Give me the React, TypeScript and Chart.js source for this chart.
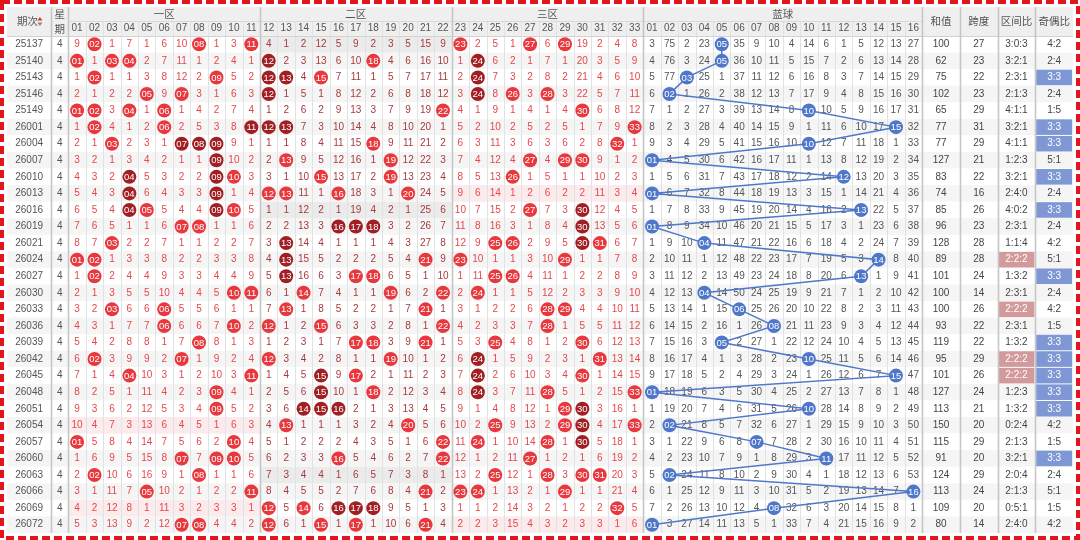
import { useEffect, useRef } from 'react';
import { Chart, registerables } from 'chart.js';

Chart.register(...registerables);

// ---------------- data ----------------
const PERIODS = ['25137', '25140', '25143', '25146', '25149', '26001', '26004', '26007', '26010', '26013',
  '26016', '26019', '26021', '26024', '26027', '26030', '26033', '26036', '26039', '26042',
  '26045', '26048', '26051', '26054', '26057', '26060', '26063', '26066', '26069', '26072'];
const WEEKDAYS = [4, 4, 4, 4, 4, 4, 4, 4, 4, 4, 4, 4, 4, 4, 4, 4, 4, 4, 4, 4, 4, 4, 4, 4, 4, 4, 4, 4, 4, 4];

const RED_DRAWS: number[][] = [
  [2, 8, 11, 23, 27, 29], [1, 3, 4, 12, 18, 24], [2, 9, 12, 13, 15, 24], [5, 7, 12, 24, 26, 28],
  [1, 2, 4, 6, 22, 30], [2, 6, 11, 12, 13, 33], [3, 7, 8, 9, 18, 32], [9, 13, 19, 27, 29, 30],
  [4, 9, 10, 15, 19, 26], [4, 9, 12, 13, 16, 20], [4, 5, 9, 10, 27, 30], [7, 8, 16, 17, 18, 30],
  [3, 13, 25, 26, 30, 31], [1, 2, 13, 21, 23, 29], [2, 13, 17, 18, 25, 26], [10, 11, 14, 19, 22, 24],
  [3, 6, 13, 21, 28, 29], [6, 10, 12, 15, 22, 28], [8, 17, 18, 21, 25, 30], [2, 7, 12, 19, 24, 31],
  [4, 11, 15, 17, 24, 30], [9, 15, 18, 24, 28, 33], [9, 14, 15, 16, 29, 30], [13, 20, 25, 29, 30, 33],
  [1, 10, 22, 24, 28, 30], [7, 9, 10, 16, 22, 27], [2, 8, 25, 28, 30, 31], [5, 11, 21, 23, 24, 29],
  [12, 14, 16, 17, 18, 32], [7, 8, 12, 15, 17, 21],
];
// balls shown in dark red
const RED_DARK_BALLS: number[][] = [
  [], [12, 24], [12, 13, 24], [12, 24], [], [11, 12, 13], [7, 8, 9], [9], [4, 9], [4, 9],
  [4, 9, 30], [16, 17, 18, 30], [13, 30], [13], [13], [], [], [], [], [24],
  [15, 24], [15, 24], [14, 15, 16, 30], [30], [30], [], [], [], [16, 17, 18], [],
];
const BLUE_DRAWS = [5, 5, 3, 2, 10, 15, 10, 1, 12, 1, 13, 1, 4, 14, 13, 4, 6, 8, 5, 10, 15, 1, 10, 2, 7, 11, 2, 16, 8, 1];

// omission counts shown in the first row (null = drawn in that row)
const RED_MISS_FIRST: (number | null)[] = [9, null, 1, 7, 1, 6, 10, null, 1, 3, null, 4, 1, 2, 12, 5, 9, 2, 3, 5, 15, 9,
  null, 2, 5, 1, null, 6, null, 19, 2, 4, 8];
const BLUE_MISS_FIRST: (number | null)[] = [3, 75, 2, 23, null, 35, 9, 10, 4, 14, 6, 1, 5, 12, 13, 27];

const SUM_VALUES = [100, 62, 75, 102, 65, 77, 77, 127, 83, 74, 85, 96, 128, 89, 101, 100, 100, 93, 119, 95,
  101, 127, 113, 150, 115, 91, 124, 113, 109, 80];
const SPAN_VALUES = [27, 23, 22, 23, 29, 31, 29, 21, 22, 16, 26, 23, 28, 28, 24, 14, 26, 22, 22, 29,
  26, 24, 21, 20, 29, 20, 29, 24, 20, 14];
const ZONE_RATIOS = ['3:0:3', '3:2:1', '2:3:1', '2:1:3', '4:1:1', '3:2:1', '4:1:1', '1:2:3', '3:2:1', '2:4:0',
  '4:0:2', '2:3:1', '1:1:4', '2:2:2', '1:3:2', '2:3:1', '2:2:2', '2:3:1', '1:3:2', '2:2:2',
  '2:2:2', '1:2:3', '1:3:2', '0:2:4', '2:1:3', '3:2:1', '2:0:4', '2:1:3', '0:5:1', '2:4:0'];
const ODD_EVEN = ['4:2', '2:4', '3:3', '2:4', '1:5', '3:3', '3:3', '5:1', '3:3', '2:4', '3:3', '2:4', '4:2', '5:1', '3:3',
  '2:4', '4:2', '1:5', '3:3', '3:3', '3:3', '3:3', '3:3', '4:2', '1:5', '3:3', '2:4', '5:1', '1:5', '4:2'];

const ZONE_LABELS = ['一区', '二区', '三区'];
const BLUE_LABEL = '蓝球';
const STAT_LABELS = ['和值', '跨度', '区间比', '奇偶比'];
const HEAD_PERIOD = '期次';
const HEAD_WEEK = ['星', '期'];

// ---------------- layout & style ----------------
const U_PERIOD = 2.54;
const U_WEEK = 0.983;
const U_STAT = 2.165;
const X_WEEK = U_PERIOD;
const X_RED = X_WEEK + U_WEEK;
const X_BLUE = X_RED + 33;
const X_STAT = X_BLUE + 16;
const X_END = X_STAT + 4 * U_STAT;
const Y_HEAD = -1.752;
const Y_SPLIT = -0.897;
const ROWS = PERIODS.length;

const FONT = '"Liberation Sans", Arial, "Noto Sans CJK SC", sans-serif';
const CJK = '"Noto Sans CJK SC", "Liberation Sans", sans-serif';
const RED_BALL = '#e8383d';
const RED_DARK = '#a11e23';
const BLUE_BALL = '#4f77c9';
const BLUE_LINE = '#5078c8';
const BALL_R = 7;

const pad = (n: number) => (n < 10 ? '0' + n : '' + n);

function buildMiss(first: (number | null)[], draws: number[][]) {
  const out: (number | null)[][] = [];
  draws.forEach((row, r) => {
    const cur: (number | null)[] = [];
    for (let c = 1; c <= first.length; c++) {
      if (row.includes(c)) cur.push(null);
      else if (r === 0) cur.push(first[c - 1]);
      else {
        const p = out[r - 1][c - 1];
        cur.push(p === null ? 1 : p + 1);
      }
    }
    out.push(cur);
  });
  return out;
}

const RED_MISS = buildMiss(RED_MISS_FIRST, RED_DRAWS);
const BLUE_MISS = buildMiss(BLUE_MISS_FIRST, BLUE_DRAWS.map((b) => [b]));

const tablePlugin = {
  id: 'lotteryTable',
  beforeDatasetsDraw(chart: any) {
    const { ctx } = chart;
    const xs = chart.scales.x;
    const ys = chart.scales.y;
    const px = (v: number) => xs.getPixelForValue(v);
    const py = (v: number) => ys.getPixelForValue(v);
    const rect = (x0: number, x1: number, y0: number, y1: number, color: string) => {
      ctx.fillStyle = color;
      ctx.fillRect(px(x0), py(y0), px(x1) - px(x0), py(y1) - py(y0));
    };
    const vline = (x: number, y0: number, y1: number, color: string, w: number) => {
      ctx.strokeStyle = color;
      ctx.lineWidth = w;
      ctx.beginPath();
      ctx.moveTo(Math.round(px(x)) + 0.5, py(y0));
      ctx.lineTo(Math.round(px(x)) + 0.5, py(y1));
      ctx.stroke();
    };
    const hline = (y: number, x0: number, x1: number, color: string, w: number) => {
      ctx.strokeStyle = color;
      ctx.lineWidth = w;
      ctx.beginPath();
      ctx.moveTo(px(x0), Math.round(py(y)) + 0.5);
      ctx.lineTo(px(x1), Math.round(py(y)) + 0.5);
      ctx.stroke();
    };
    const text = (s: string, x: number, y: number, color: string, font: string) => {
      ctx.fillStyle = color;
      ctx.font = font;
      ctx.textAlign = 'center';
      ctx.textBaseline = 'middle';
      ctx.fillText(s, px(x), py(y));
    };
    ctx.save();
    // header background
    rect(0, X_END, Y_HEAD, 0, '#efefef');
    // row stripes
    for (let r = 0; r < ROWS; r++) {
      rect(0, X_END, r, r + 1, r % 2 === 1 ? '#f5f5f5' : '#ffffff');
    }
    // empty zone highlight
    ZONE_RATIOS.forEach((z, r) => {
      z.split(':').forEach((cnt, k) => {
        if (cnt === '0') {
          rect(X_RED + 11 * k, X_RED + 11 * (k + 1), r, r + 1, k === 1 ? '#ebebeb' : '#fcebec');
        }
      });
    });
    // stat highlights
    const sx = (k: number) => X_STAT + k * U_STAT;
    ZONE_RATIOS.forEach((z, r) => {
      if (z === '2:2:2') rect(sx(2) + 0.05, sx(3) - 0.05, r + 0.03, r + 0.97, '#d39a9c');
    });
    ODD_EVEN.forEach((z, r) => {
      if (z === '3:3') rect(sx(3) + 0.05, sx(4) - 0.05, r + 0.03, r + 0.97, '#7f98d5');
    });
    // thin grid lines
    for (let c = 1; c < 49; c++) {
      if (c === 11 || c === 22 || c === 33) continue;
      vline(X_RED + c, Y_SPLIT, ROWS, '#e2e2e2', 1);
    }
    hline(Y_SPLIT, X_RED, X_STAT, '#d9d9d9', 1);
    hline(0, 0, X_END, '#d2d2d2', 1);
    // thick separators
    [X_WEEK, X_RED, X_RED + 11, X_RED + 22, X_BLUE, X_STAT, sx(1), sx(2), sx(3)].forEach((x) => {
      vline(x, Y_HEAD, ROWS, '#c6c6c6', 1.6);
    });
    // header texts
    const hf = `10.5px ${CJK}`;
    const yh1 = (Y_HEAD + Y_SPLIT) / 2;
    const yh2 = Y_SPLIT / 2;
    const yhm = Y_HEAD / 2;
    text(HEAD_PERIOD, U_PERIOD / 2 - 0.1, yhm, '#555', hf);
    // sort arrows
    const ax = px(U_PERIOD / 2 + 0.62);
    const ay = py(yhm);
    ctx.fillStyle = '#e0302f';
    ctx.beginPath();
    ctx.moveTo(ax - 2.5, ay - 1);
    ctx.lineTo(ax + 2.5, ay - 1);
    ctx.lineTo(ax, ay - 4.5);
    ctx.closePath();
    ctx.fill();
    ctx.fillStyle = '#888';
    ctx.beginPath();
    ctx.moveTo(ax - 2.5, ay + 1);
    ctx.lineTo(ax + 2.5, ay + 1);
    ctx.lineTo(ax, ay + 4.5);
    ctx.closePath();
    ctx.fill();
    text(HEAD_WEEK[0], X_WEEK + U_WEEK / 2, yh1, '#555', hf);
    text(HEAD_WEEK[1], X_WEEK + U_WEEK / 2, yh2, '#555', hf);
    ZONE_LABELS.forEach((l, k) => text(l, X_RED + 11 * k + 5.5, yh1, '#555', hf));
    text(BLUE_LABEL, X_BLUE + 8, yh1, '#555', hf);
    STAT_LABELS.forEach((l, k) => text(l, sx(k) + U_STAT / 2, yhm, '#555', hf));
    const nf = `10px ${FONT}`;
    for (let n = 1; n <= 33; n++) text(pad(n), X_RED + n - 0.5, yh2, '#555', nf);
    for (let n = 1; n <= 16; n++) text(pad(n), X_BLUE + n - 0.5, yh2, '#555', nf);
    // body texts
    for (let r = 0; r < ROWS; r++) {
      const y = r + 0.5;
      text(PERIODS[r], U_PERIOD / 2, y, '#555', nf);
      text(String(WEEKDAYS[r]), X_WEEK + U_WEEK / 2, y, '#555', nf);
      RED_MISS[r].forEach((v, c) => {
        if (v === null) return;
        const zone = Math.floor(c / 11);
        text(String(v), X_RED + c + 0.5, y, zone === 1 ? '#a83a3d' : '#e5474c', nf);
      });
      BLUE_MISS[r].forEach((v, c) => {
        if (v === null) return;
        text(String(v), X_BLUE + c + 0.5, y, '#555', nf);
      });
      text(String(SUM_VALUES[r]), sx(0) + U_STAT / 2, y, '#444', nf);
      text(String(SPAN_VALUES[r]), sx(1) + U_STAT / 2, y, '#444', nf);
      text(ZONE_RATIOS[r], sx(2) + U_STAT / 2, y, ZONE_RATIOS[r] === '2:2:2' ? '#fff' : '#444', nf);
      text(ODD_EVEN[r], sx(3) + U_STAT / 2, y, ODD_EVEN[r] === '3:3' ? '#fff' : '#444', nf);
    }
    ctx.restore();
  },
  afterDatasetsDraw(chart: any) {
    const { ctx } = chart;
    const xs = chart.scales.x;
    const ys = chart.scales.y;
    ctx.save();
    ctx.fillStyle = '#fff';
    ctx.font = `9.5px ${FONT}`;
    ctx.textAlign = 'center';
    ctx.textBaseline = 'middle';
    RED_DRAWS.forEach((row, r) => row.forEach((n) => {
      ctx.fillText(pad(n), xs.getPixelForValue(X_RED + n - 0.5), ys.getPixelForValue(r + 0.5) + 0.5);
    }));
    BLUE_DRAWS.forEach((n, r) => {
      ctx.fillText(pad(n), xs.getPixelForValue(X_BLUE + n - 0.5), ys.getPixelForValue(r + 0.5) + 0.5);
    });
    ctx.restore();
  },
  afterDraw(chart: any) {
    const { ctx, width, height } = chart;
    ctx.save();
    ctx.strokeStyle = '#e3141b';
    ctx.lineWidth = 4;
    ctx.setLineDash([8, 4]);
    ctx.strokeRect(2, 2, width - 4, height - 4);
    ctx.restore();
  },
};

export default function App() {
  const ref = useRef<HTMLCanvasElement>(null);
  useEffect(() => {
    document.body.style.margin = '0';
    const canvas = ref.current;
    if (!canvas) return;
    const redLight: any[] = [];
    const redDark: any[] = [];
    RED_DRAWS.forEach((row, r) => row.forEach((n) => {
      const pt = { x: X_RED + n - 0.5, y: r + 0.5 };
      (RED_DARK_BALLS[r].includes(n) ? redDark : redLight).push(pt);
    }));
    const bluePts = BLUE_DRAWS.map((n, r) => ({ x: X_BLUE + n - 0.5, y: r + 0.5 }));
    const chart = new Chart(canvas, {
      type: 'scatter',
      data: {
        datasets: [
          { type: 'line', data: bluePts, borderColor: BLUE_LINE, borderWidth: 1.5, pointRadius: 0, fill: false, tension: 0, order: 3 } as any,
          { data: redLight, backgroundColor: RED_BALL, pointRadius: BALL_R, pointHoverRadius: BALL_R, pointBorderWidth: 0, order: 2 } as any,
          { data: redDark, backgroundColor: RED_DARK, pointRadius: BALL_R, pointHoverRadius: BALL_R, pointBorderWidth: 0, order: 2 } as any,
          { data: bluePts, backgroundColor: BLUE_BALL, pointRadius: BALL_R, pointHoverRadius: BALL_R, pointBorderWidth: 0, order: 1 } as any,
        ],
      },
      options: {
        animation: false,
        responsive: true,
        maintainAspectRatio: false,
        events: [],
        layout: { padding: { left: 5, right: 4, top: 4, bottom: 5 } },
        scales: {
          x: { type: 'linear', min: 0, max: X_END, display: false },
          y: { type: 'linear', min: Y_HEAD, max: ROWS, reverse: true, display: false },
        },
        plugins: { legend: { display: false }, tooltip: { enabled: false } },
      } as any,
      plugins: [tablePlugin],
    });
    return () => chart.destroy();
  }, []);
  return (
    <div style={{ width: 1080, height: 540, position: 'relative', background: '#fff' }}>
      <canvas ref={ref} />
    </div>
  );
}
